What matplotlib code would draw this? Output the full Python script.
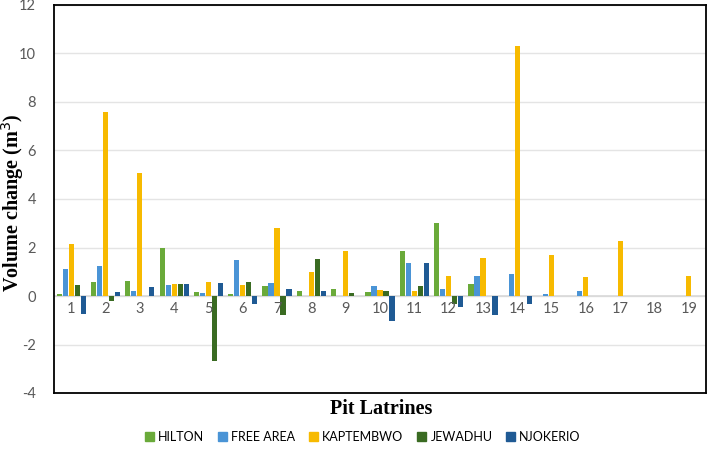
import numpy as np
import matplotlib
matplotlib.use("Agg")
import matplotlib.pyplot as plt
from matplotlib.patches import Patch

categories = [str(i) for i in range(1, 20)]
series_names = ["HILTON", "FREE AREA", "KAPTEMBWO", "JEWADHU", "NJOKERIO"]
hilton    = [0.10, 0.57, 0.62, 2.00, 0.15, 0.08, 0.42, 0.20, 0.28, 0.15, 1.84, 3.00, 0.49, 0.00, 0.00, 0.00, 0.00, 0.00, 0.00]
free_area = [1.10, 1.23, 0.20, 0.45, 0.13, 1.48, 0.53, 0.00, 0.00, 0.40, 1.35, 0.29, 0.82, 0.90, 0.08, 0.20, 0.00, 0.00, 0.00]
kaptembwo = [2.13, 7.60, 5.07, 0.48, 0.57, 0.46, 2.80, 1.00, 1.85, 0.25, 0.20, 0.82, 1.57, 10.30, 1.71, 0.78, 2.28, 0.02, 0.81]
jewadhu   = [0.44, -0.20, 0.02, 0.48, -2.67, 0.57, -0.78, 1.52, 0.12, 0.20, 0.41, -0.35, 0.00, 0.00, 0.00, 0.00, 0.00, 0.00, 0.00]
njokerio  = [-0.76, 0.15, 0.38, 0.50, 0.53, -0.35, 0.30, 0.22, 0.02, -1.02, 1.35, -0.45, -0.77, -0.34, 0.00, 0.00, 0.00, 0.00, 0.00]
y_ticks = [-4, -2, 0, 2, 4, 6, 8, 10, 12]

colors = ["#6AAA3A", "#4A94D6", "#F7BA00", "#3A6B22", "#1F5A94"]
data = [hilton, free_area, kaptembwo, jewadhu, njokerio]

fig = plt.figure(figsize=(7.09, 4.59), dpi=100)
ax = fig.add_axes([54/709, 1-393/459, (706-54)/709, (393-5)/459])

x = np.arange(len(categories))
step = 0.175
width = 0.15
for i, (vals, c) in enumerate(zip(data, colors)):
    ax.bar(x + (i-2)*step, vals, width=width, color=c, zorder=3, linewidth=0)

ax.set_xlim(-0.5, len(categories)-0.5)
ax.set_ylim(-4, 12)
ax.set_yticks(y_ticks)
ax.set_yticklabels([str(t) for t in y_ticks], fontsize=10.5, color="#595959", family="Lato")
ax.tick_params(axis="y", length=0, pad=13)
ax.set_xticks([])
ax.grid(axis="y", color="#E4E4E4", linewidth=1, zorder=0)
ax.axhline(0, color="#D9D9D9", linewidth=1.2, zorder=2)
for s in ax.spines.values():
    s.set_color("black")
    s.set_linewidth(1.3)

for xi, lab in zip(x, categories):
    ax.text(xi, -0.55, lab, ha="center", va="center", fontsize=10.5, color="#595959", family="Lato")

fig.text(13/709, 1-203/459, "Volume change (m$^3$)", rotation=90, ha="center", va="center",
         fontsize=14.5, fontweight="bold", family="Liberation Serif")
fig.text(381/709, 1-409/459, "Pit Latrines", ha="center", va="center", fontsize=14.5, fontweight="bold", family="Liberation Serif")

handles = [Patch(color=c, label=n) for c, n in zip(colors, series_names)]
fig.legend(handles=handles, loc="center", bbox_to_anchor=(363/709, 1-437/459), ncol=5, frameon=False,
           prop={"family": "Lato", "size": 9}, handlelength=0.7, handleheight=0.7, handletextpad=0.35, columnspacing=1.1)

fig.savefig("out.png", dpi=100)
